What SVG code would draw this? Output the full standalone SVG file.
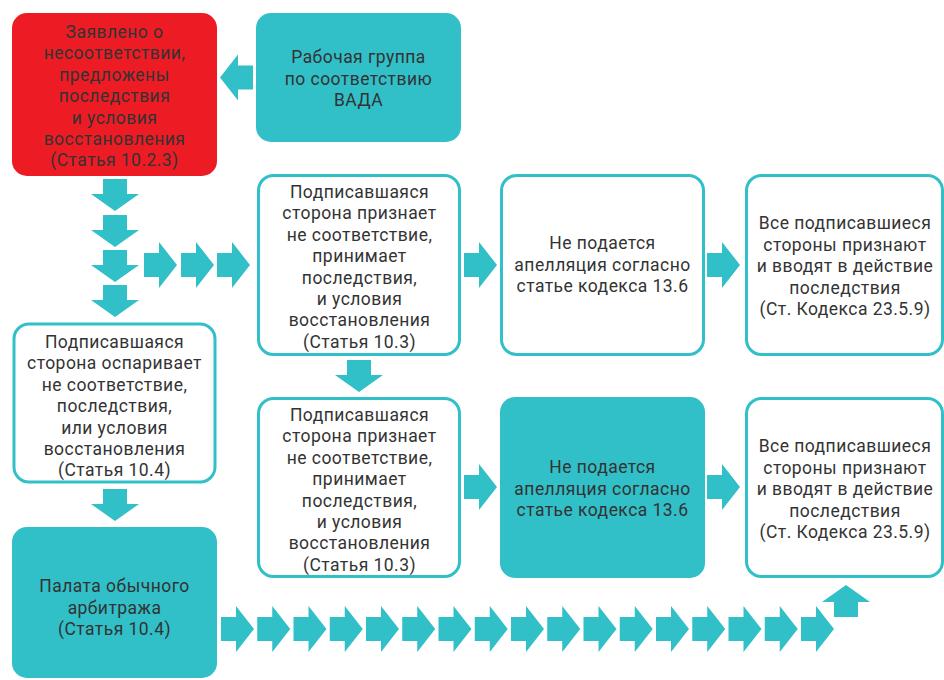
<svg xmlns="http://www.w3.org/2000/svg" xmlns:xlink="http://www.w3.org/1999/xlink" width="944" height="680" viewBox="0 0 944 680">
<style>
.red{fill:#ED1C24}
.teal{fill:#31BFC8}
.white{fill:#FFFFFF;stroke:#31BFC8;stroke-width:3}
.arr{fill:#31BFC8}
text{font-family:Roboto,"Noto Sans","DejaVu Sans",sans-serif;font-size:17.5px;letter-spacing:0.45px;fill:#333333;text-anchor:middle}
</style>
<defs>
<path id="ar" d="M0,-12 H15 V-23 L33,0 L15,23 V12 H0 Z"/>
<path id="ad" d="M-12,0 H12 V15 H24 L0,32 L-24,15 H-12 Z"/>
</defs>
<rect width="944" height="680" fill="#FFFFFF"/>
<g id="connectors" class="arr">
<use xlink:href="#ar" transform="translate(253,77.5) scale(-1,1)"/>
<use xlink:href="#ad" transform="translate(115,179)"/>
<use xlink:href="#ad" transform="translate(115,215)"/>
<use xlink:href="#ad" transform="translate(115,250)"/>
<use xlink:href="#ad" transform="translate(115,285)"/>
<use xlink:href="#ad" transform="translate(115,489)"/>
<use xlink:href="#ar" transform="translate(144,265)"/>
<use xlink:href="#ar" transform="translate(181,265)"/>
<use xlink:href="#ar" transform="translate(217,265)"/>
<use xlink:href="#ad" transform="translate(359,360)"/>
<use xlink:href="#ar" transform="translate(464,265)"/>
<use xlink:href="#ar" transform="translate(707,265)"/>
<use xlink:href="#ar" transform="translate(464,487)"/>
<use xlink:href="#ar" transform="translate(707,487)"/>
<use xlink:href="#ar" transform="translate(221,629)"/>
<use xlink:href="#ar" transform="translate(257.25,629)"/>
<use xlink:href="#ar" transform="translate(293.5,629)"/>
<use xlink:href="#ar" transform="translate(329.75,629)"/>
<use xlink:href="#ar" transform="translate(366,629)"/>
<use xlink:href="#ar" transform="translate(402.25,629)"/>
<use xlink:href="#ar" transform="translate(438.5,629)"/>
<use xlink:href="#ar" transform="translate(474.75,629)"/>
<use xlink:href="#ar" transform="translate(511,629)"/>
<use xlink:href="#ar" transform="translate(547.25,629)"/>
<use xlink:href="#ar" transform="translate(583.5,629)"/>
<use xlink:href="#ar" transform="translate(619.75,629)"/>
<use xlink:href="#ar" transform="translate(656,629)"/>
<use xlink:href="#ar" transform="translate(692.25,629)"/>
<use xlink:href="#ar" transform="translate(728.5,629)"/>
<use xlink:href="#ar" transform="translate(764.75,629)"/>
<use xlink:href="#ar" transform="translate(801,629)"/>
<use xlink:href="#ad" transform="translate(846,617) scale(1,-1)"/>
</g>
<g id="n-declared">
<rect class="red" x="12" y="13" width="205" height="163" rx="15"/>
<text x="114.5" y="38">Заявлено о</text>
<text x="114.5" y="59.4">несоответствии,</text>
<text x="114.5" y="80.8">предложены</text>
<text x="114.5" y="102.2">последствия</text>
<text x="114.5" y="123.6">и условия</text>
<text x="114.5" y="145">восстановления</text>
<text x="114.5" y="166.4">(Статья 10.2.3)</text>
</g>
<g id="n-workgroup">
<rect class="teal" x="256" y="13" width="205" height="129" rx="15"/>
<text x="358.5" y="63">Рабочая группа</text>
<text x="358.5" y="84.5">по соответствию</text>
<text x="358.5" y="106">ВАДА</text>
</g>
<g id="n-accept1">
<rect class="white" x="258.5" y="175.5" width="201" height="179" rx="15"/>
<text x="359.5" y="198">Подписавшаяся</text>
<text x="359.5" y="219.4">сторона признает</text>
<text x="359.5" y="240.8">не соответствие,</text>
<text x="359.5" y="262.2">принимает</text>
<text x="359.5" y="283.6">последствия,</text>
<text x="359.5" y="305">и условия</text>
<text x="359.5" y="326.4">восстановления</text>
<text x="359.5" y="347.8">(Статья 10.3)</text>
</g>
<g id="n-noappeal1">
<rect class="white" x="501.5" y="175.5" width="202" height="179" rx="15"/>
<text x="602.5" y="249">Не подается</text>
<text x="602.5" y="270.5">апелляция согласно</text>
<text x="602.5" y="292">статье кодекса 13.6</text>
</g>
<g id="n-all1">
<rect class="white" x="746.5" y="175.5" width="196" height="179" rx="15"/>
<text x="845" y="229">Все подписавшиеся</text>
<text x="845" y="250.6">стороны признают</text>
<text x="845" y="272.2">и вводят в действие</text>
<text x="845" y="293.8">последствия</text>
<text x="845" y="315.4">(Ст. Кодекса 23.5.9)</text>
</g>
<g id="n-dispute">
<rect class="white" x="14" y="324" width="201" height="158" rx="15"/>
<text x="114.5" y="348">Подписавшаяся</text>
<text x="114.5" y="369.4">сторона оспаривает</text>
<text x="114.5" y="390.8">не соответствие,</text>
<text x="114.5" y="412.2">последствия,</text>
<text x="114.5" y="433.6">или условия</text>
<text x="114.5" y="455">восстановления</text>
<text x="114.5" y="476.4">(Статья 10.4)</text>
</g>
<g id="n-accept2">
<rect class="white" x="258.5" y="398.5" width="201" height="178" rx="15"/>
<text x="359.5" y="421">Подписавшаяся</text>
<text x="359.5" y="442.4">сторона признает</text>
<text x="359.5" y="463.8">не соответствие,</text>
<text x="359.5" y="485.2">принимает</text>
<text x="359.5" y="506.6">последствия,</text>
<text x="359.5" y="528">и условия</text>
<text x="359.5" y="549.4">восстановления</text>
<text x="359.5" y="570.8">(Статья 10.3)</text>
</g>
<g id="n-noappeal2">
<rect class="teal" x="500" y="397" width="205" height="181" rx="15"/>
<text x="602.5" y="473">Не подается</text>
<text x="602.5" y="494.5">апелляция согласно</text>
<text x="602.5" y="516">статье кодекса 13.6</text>
</g>
<g id="n-all2">
<rect class="white" x="746.5" y="398.5" width="196" height="178" rx="15"/>
<text x="845" y="452">Все подписавшиеся</text>
<text x="845" y="473.5">стороны признают</text>
<text x="845" y="495">и вводят в действие</text>
<text x="845" y="516.5">последствия</text>
<text x="845" y="538">(Ст. Кодекса 23.5.9)</text>
</g>
<g id="n-cas">
<rect class="teal" x="12" y="527" width="205" height="151" rx="15"/>
<text x="114.5" y="592">Палата обычного</text>
<text x="114.5" y="613.5">арбитража</text>
<text x="114.5" y="635">(Статья 10.4)</text>
</g>
</svg>
